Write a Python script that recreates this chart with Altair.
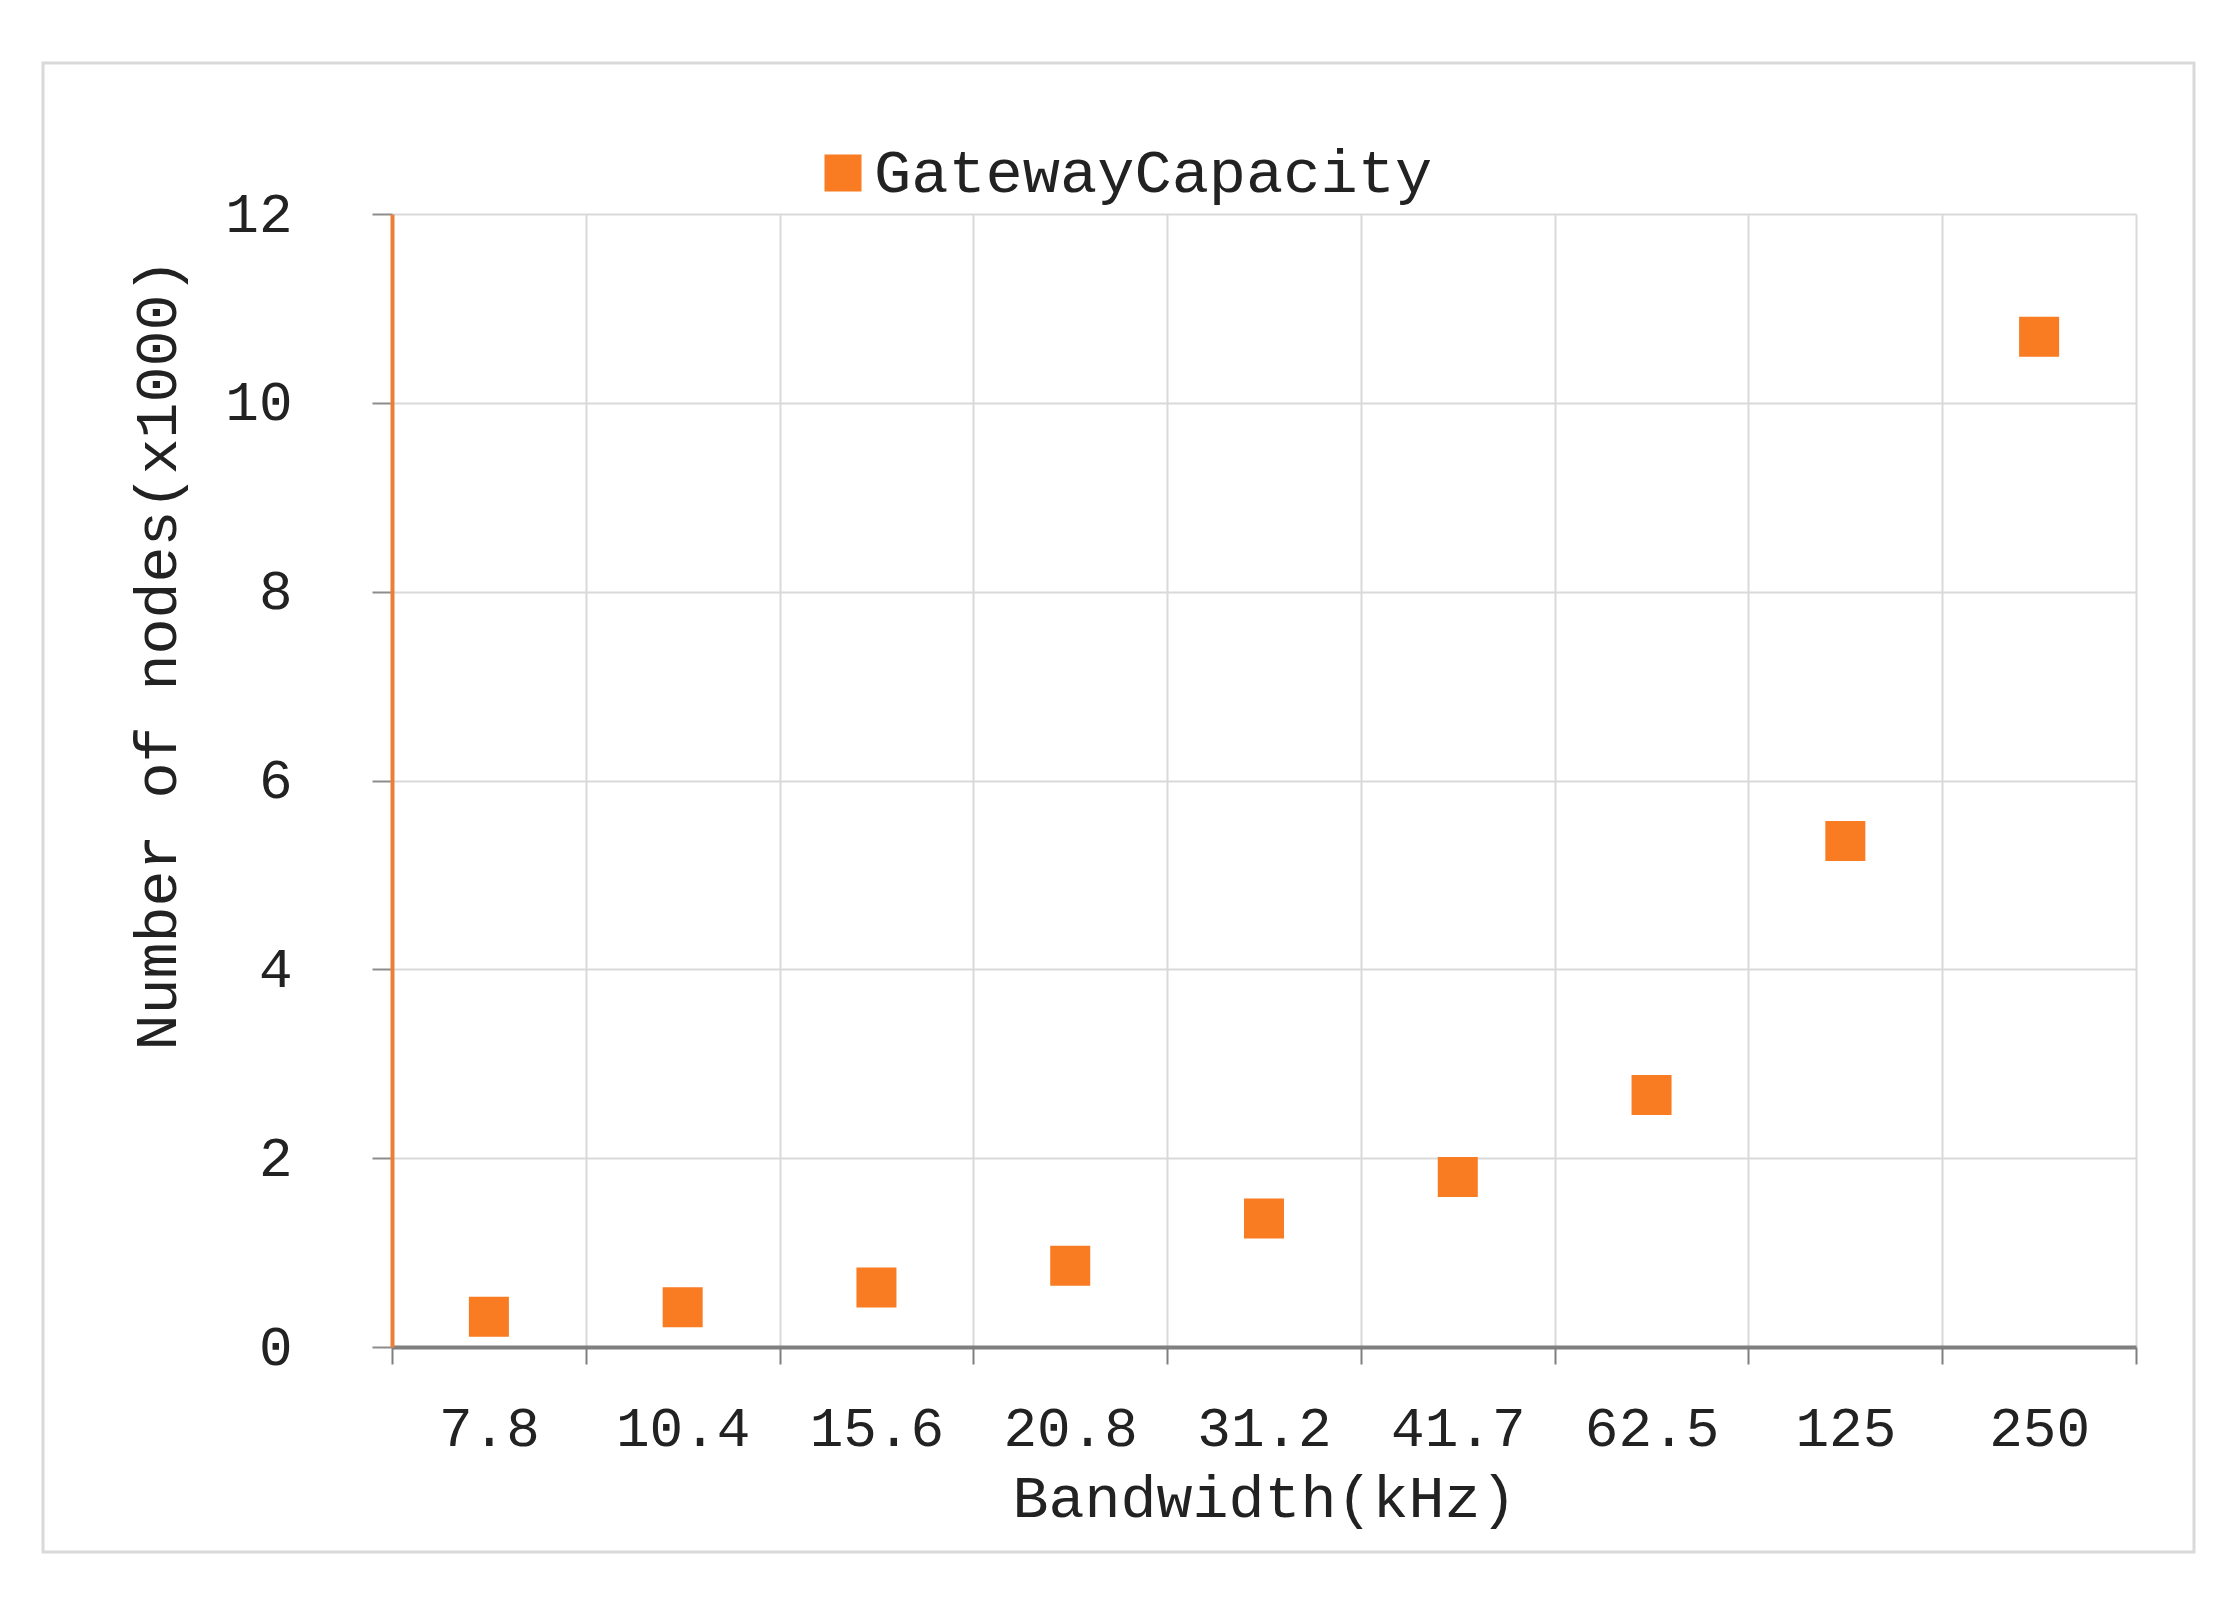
import altair as alt
import pandas as pd

categories = ["7.8", "10.4", "15.6", "20.8", "31.2", "41.7", "62.5", "125", "250"]
values = [0.32, 0.42, 0.63, 0.86, 1.36, 1.80, 2.67, 5.36, 10.70]
series_name = "GatewayCapacity"
y_ticks = [0, 2, 4, 6, 8, 10, 12]

df = pd.DataFrame({"bw": categories, "nodes": values, "series": [series_name] * len(categories)})

FONT = "Liberation Mono"
ORANGE = "#F97B22"
TEXT = "#222222"

points = alt.Chart(df).mark_square(size=1600, opacity=1, filled=True).encode(
    x=alt.X(
        "bw:N",
        sort=categories,
        scale=alt.Scale(type="band", paddingInner=0, paddingOuter=0),
        axis=alt.Axis(
            title="Bandwidth(kHz)",
            labelAngle=0,
            tickBand="extent",
            grid=True,
            gridColor="#d9d9d9",
            gridWidth=2,
            domainColor="#7f7f7f",
            domainWidth=4,
            tickColor="#7f7f7f",
            tickWidth=2,
            tickSize=17,
            labelFont=FONT,
            labelFontSize=56,
            labelColor=TEXT,
            labelBaseline="middle",
            labelPadding=64,
            titleFont=FONT,
            titleFontSize=60,
            titleFontWeight="normal",
            titleColor=TEXT,
            titleBaseline="middle",
            titleY=151,
        ),
    ),
    y=alt.Y(
        "nodes:Q",
        scale=alt.Scale(domain=[0, 12], nice=False, zero=True),
        axis=alt.Axis(
            title="Number of nodes(x1000)",
            values=y_ticks,
            grid=True,
            gridColor="#d9d9d9",
            gridWidth=2,
            domainColor="#E8803A",
            domainWidth=4,
            tickColor="#8c8c8c",
            tickWidth=2,
            tickSize=20,
            labelFont=FONT,
            labelFontSize=56,
            labelColor=TEXT,
            labelPadding=80,
            titleFont=FONT,
            titleFontSize=60,
            titleFontWeight="normal",
            titleColor=TEXT,
            titleBaseline="middle",
            titleAlign="center",
            titleAngle=270,
            titleX=-235,
            titleY=440,
        ),
    ),
    color=alt.Color(
        "series:N",
        scale=alt.Scale(domain=[series_name], range=[ORANGE]),
        legend=alt.Legend(
            title=None,
            orient="none",
            legendX=420,
            legendY=-72,
            symbolType="square",
            symbolSize=1369,
            symbolStrokeWidth=0,
            labelFont=FONT,
            labelFontSize=62,
            labelColor=TEXT,
            labelOffset=0,
            labelLimit=2000,
        ),
    ),
)

frame = alt.Chart(pd.DataFrame({"a": [0]})).mark_rect(
    fill="transparent", stroke="#d9d9d9", strokeWidth=3
).encode(
    x=alt.value(-349), x2=alt.value(1802), y=alt.value(-151), y2=alt.value(1338)
)

chart = alt.layer(frame, points).properties(
    width=1744,
    height=1133,
    padding={"left": 384, "top": 206, "right": 93, "bottom": 253},
    autosize=alt.AutoSizeParams(type="none"),
    background="white",
).configure_view(strokeWidth=0)

chart.save("out.html", embed_options={"renderer": "svg", "actions": False})
